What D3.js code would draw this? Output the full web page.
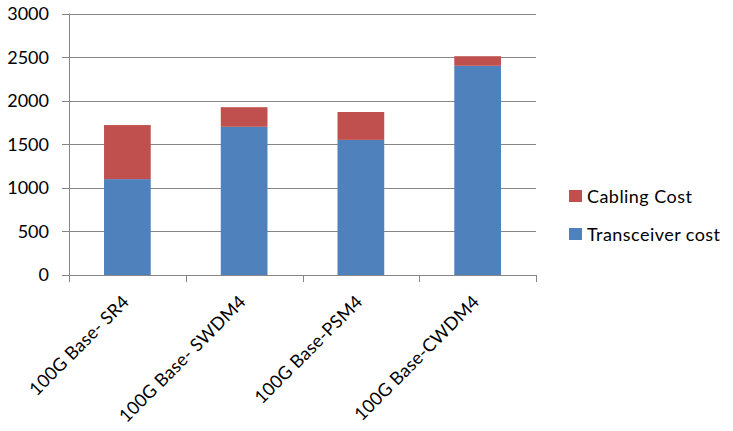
<!DOCTYPE html>
<html><head><meta charset="utf-8">
<script src="https://cdn.jsdelivr.net/npm/d3@7"></script>
<style>body{margin:0;background:#fff}svg{display:block}text{font-family:Lato,"Liberation Sans",sans-serif;fill:#000}</style>
</head><body>
<script>
const categories = ["100G Base- SR4", "100G Base- SWDM4", "100G Base-PSM4", "100G Base-CWDM4"];
const transceiverCost = [1100, 1700, 1550, 2400];
const cablingCost = [620, 225, 320, 110];
const seriesNames = ["Transceiver cost", "Cabling Cost"];
const seriesColors = ["#4F81BD", "#C0504D"];
const yTicks = [0, 500, 1000, 1500, 2000, 2500, 3000];

const W = 733, H = 431;
const mLeft = 69, mRight = 536, mTop = 13.5, mBottom = 275;
const svg = d3.select("body").append("svg").attr("width", W).attr("height", H);

const x = d3.scaleBand().domain(categories).range([mLeft, mRight]).paddingInner(0.6).paddingOuter(0.3);
const y = d3.scaleLinear().domain([0, 3000]).range([mBottom, mTop]);

const rows = categories.map((c, i) => ({cat: c, "Transceiver cost": transceiverCost[i], "Cabling Cost": cablingCost[i]}));
const stack = d3.stack().keys(seriesNames)(rows);

// gridlines
svg.append("g").selectAll("line").data(yTicks).join("line")
  .attr("x1", mLeft - 7).attr("x2", mRight)
  .attr("y1", d => Math.round(y(d)) + 0.5).attr("y2", d => Math.round(y(d)) + 0.5)
  .attr("stroke", "#868686").attr("stroke-width", 1);

// y labels
svg.append("g").selectAll("text").data(yTicks).join("text")
  .attr("x", 49).attr("y", d => y(d)).attr("dy", "0.36em")
  .attr("text-anchor", "end").attr("font-size", 18).text(d => d);

// bars
svg.append("g").selectAll("g").data(stack).join("g")
  .attr("fill", (d, i) => seriesColors[i])
  .selectAll("rect").data(d => d).join("rect")
  .attr("x", d => x(d.data.cat)).attr("width", x.bandwidth())
  .attr("y", d => y(d[1])).attr("height", d => y(d[0]) - y(d[1]));

// axes lines
svg.append("line").attr("x1", mLeft + 0.5).attr("x2", mLeft + 0.5).attr("y1", mTop).attr("y2", mBottom)
  .attr("stroke", "#868686");
const bounds = d3.range(categories.length + 1).map(i => mLeft + (mRight - mLeft) * i / categories.length);
svg.append("g").selectAll("line").data(bounds).join("line")
  .attr("x1", d => Math.round(d) + 0.5).attr("x2", d => Math.round(d) + 0.5)
  .attr("y1", mBottom).attr("y2", mBottom + 7).attr("stroke", "#868686");

// x labels
svg.append("g").selectAll("text").data(categories).join("text")
  .attr("transform", d => `translate(${x(d) + x.bandwidth() / 2 + 3},${mBottom + 28}) rotate(-45)`)
  .attr("text-anchor", "end").attr("font-size", 18).attr("letter-spacing", 0.2).text(d => d);

// legend
const legendItems = [{name: "Cabling Cost", color: seriesColors[1]}, {name: "Transceiver cost", color: seriesColors[0]}];
const lg = svg.append("g").selectAll("g").data(legendItems).join("g")
  .attr("transform", (d, i) => `translate(569,${190 + i * 38})`);
lg.append("rect").attr("width", 13).attr("height", 12).attr("fill", d => d.color);
lg.append("text").attr("x", 18).attr("y", 12.5).attr("font-size", 18).attr("letter-spacing", 0.45).text(d => d.name);
</script>
</body></html>
